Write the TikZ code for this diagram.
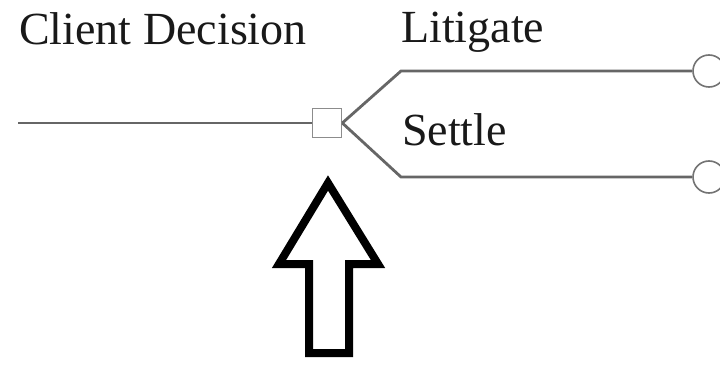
\documentclass[tikz,border=0pt]{standalone}
\usepackage{fontspec}
\setmainfont{Liberation Serif}
\begin{document}
\begin{tikzpicture}[x=1pt,y=1pt,
  branch/.style={draw=black!60, line width=2.8pt},
  decbox/.style={draw=black!45, line width=1.6pt, fill=white, minimum size=29pt, inner sep=0pt},
  chance/.style={circle, draw=black!55, line width=1.6pt, fill=white, minimum size=32pt, inner sep=0pt},
  lbl/.style={anchor=base west, inner sep=0pt, font=\fontsize{46}{55}\selectfont, text=black!90}]
\useasboundingbox (0,0) rectangle (720,-366);
\clip (0,0) rectangle (720,-366);
\fill[white] (0,0) rectangle (720,-366);
\coordinate (start) at (18,-123);
\coordinate (b1) at (401,-71);
\coordinate (b2) at (401,-177);
\node[decbox] (dec) at (327,-123) {};
\node[chance] (c1) at (709,-71) {};
\node[chance] (c2) at (709,-177) {};
\draw[branch] (start) -- (dec.west);
\draw[branch] (dec.east) -- (b1) -- (c1.west);
\draw[branch] (dec.east) -- (b2) -- (c2.west);
\node[lbl] (t1) at (19,-45) {Client Decision};
\node[lbl] (t2) at (401,-43) {Litigate};
\node[lbl] (t3) at (402,-146) {Settle};
\draw[line width=8pt, line join=miter, black]
  (328,-183) -- (378,-264) -- (349,-264) -- (349,-353) -- (309,-353) -- (309,-264) -- (279,-264) -- cycle;
\end{tikzpicture}
\end{document}
